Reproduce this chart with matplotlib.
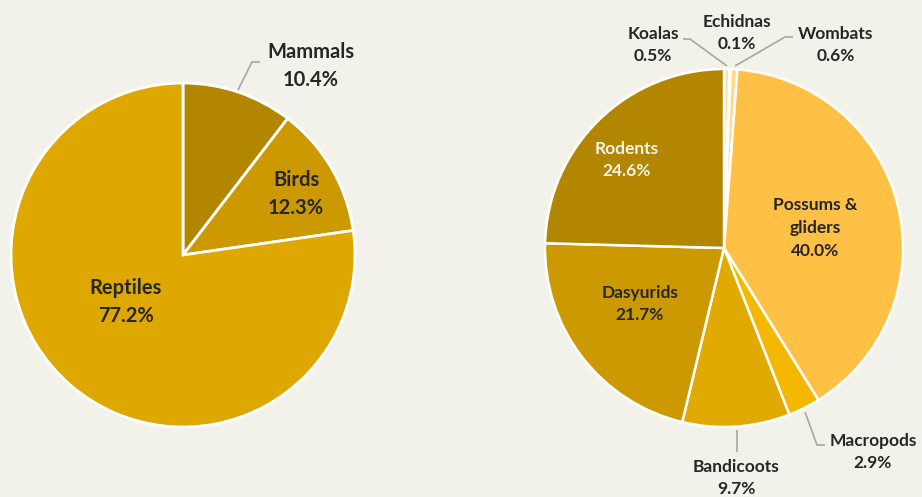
import matplotlib.pyplot as plt

# valores
grupos_izq = ['Mammals', 'Birds', 'Reptiles']
pct_izq = [10.4, 12.3, 77.2]
colores_izq = ['#B38600', '#CC9A00', '#DFA800']

grupos_der = ['Koalas', 'Echidnas', 'Wombats', 'Possums &\ngliders', 'Macropods',
              'Bandicoots', 'Dasyurids', 'Rodents']
pct_der = [0.5, 0.1, 0.6, 40.0, 2.9, 9.7, 21.7, 24.6]
colores_der = ['#FFE2A6', '#FFE2A6', '#FFD88A', '#FFC145', '#F5B800',
               '#E0AA00', '#CC9A00', '#B38600']

W, H = 922, 497
fondo = '#F3F2EA'
txt = '#262626'
gris = '#A6A6A6'

fig = plt.figure(figsize=(W / 100, H / 100), dpi=100, facecolor=fondo)
ax = fig.add_axes([0, 0, 1, 1])

def Y(y):
    return H - y

ax.pie(pct_izq, colors=colores_izq, startangle=90, counterclock=False,
       center=(183, Y(255)), radius=172, normalize=True,
       wedgeprops=dict(edgecolor='white', linewidth=2))
ax.pie(pct_der, colors=colores_der, startangle=90, counterclock=False,
       center=(724, Y(248)), radius=179, normalize=True,
       wedgeprops=dict(edgecolor='white', linewidth=1.8))

# los pie() cambian los limites, se fijan despues
ax.set_xlim(0, W)
ax.set_ylim(0, H)
ax.set_aspect('equal')
ax.axis('off')

fuente = 'Lato'

def etiqueta(x, y, s, size, color=txt, ls=1.5):
    ax.text(x, Y(y), s, ha='center', va='center', fontsize=size,
            fontweight='bold', color=color, family=fuente, linespacing=ls)

# izquierda
etiqueta(311, 66, 'Mammals\n10.4%', 14.5)
etiqueta(296, 194, 'Birds\n12.3%', 14.5)
etiqueta(126, 302, 'Reptiles\n77.2%', 14.5)

# derecha
p = dict(zip(grupos_der, pct_der))
etiqueta(653, 45, f'Koalas\n{p["Koalas"]}%', 12.5)
etiqueta(737, 33, f'Echidnas\n{p["Echidnas"]}%', 12.5)
etiqueta(836, 45, f'Wombats\n{p["Wombats"]}%', 12.5)
etiqueta(627, 160, f'Rodents\n{p["Rodents"]}%', 12.5, color='#F5F3EA')
etiqueta(815, 228, f'Possums &\ngliders\n{p["Possums &\ngliders"]}%', 12.5)
etiqueta(640, 304, f'Dasyurids\n{p["Dasyurids"]}%', 12.5)
etiqueta(736, 478, f'Bandicoots\n{p["Bandicoots"]}%', 12.5)
etiqueta(873, 452, f'Macropods\n{p["Macropods"]}%', 12.5)

# lineas guia
def linea(xs, ys):
    ax.plot(xs, [Y(v) for v in ys], color=gris, lw=1.2, solid_capstyle='butt')

linea([238, 252, 260], [90, 62, 62])
linea([683, 690, 727], [39, 39, 66])
linea([793, 785, 735], [37, 37, 66])
linea([737, 737], [430, 452])
linea([805, 817, 825], [412, 445, 445])

fig.savefig('out.png', dpi=100, facecolor=fondo)
